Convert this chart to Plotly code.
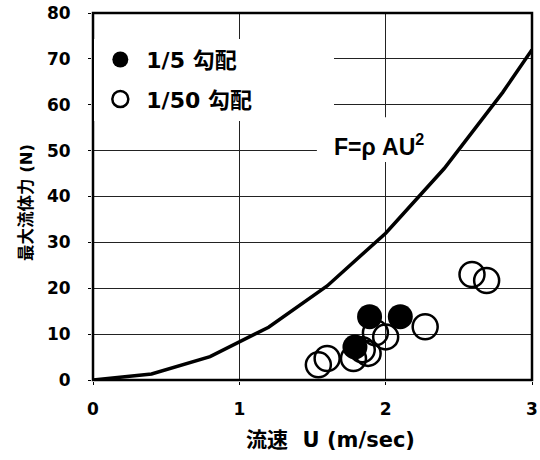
import plotly.graph_objects as go

# Theoretical curve F = rho*A*U^2
curve_u = [0, 0.4, 0.8, 1.2, 1.6, 2.0, 2.4, 2.8, 3.0]
curve_f = [0, 1.3, 5.1, 11.5, 20.5, 32.0, 46.1, 62.7, 72.0]

# 1/5 slope (filled circles)
s5_u = [1.79, 1.89, 2.10]
s5_f = [7.2, 13.8, 13.8]

# 1/50 slope (open circles)
s50_u = [1.54, 1.60, 1.78, 1.84, 1.88, 1.93, 2.00, 2.27, 2.59, 2.69]
s50_f = [3.3, 4.7, 4.7, 6.6, 5.8, 10.3, 9.4, 11.6, 23.0, 21.7]

x_ticks = [0, 1, 2, 3]
y_ticks = [0, 10, 20, 30, 40, 50, 60, 70, 80]

FONT = "DejaVu Sans, Noto Sans CJK JP"
FONT2 = "Liberation Sans, Arial, Noto Sans CJK JP"

fig = go.Figure()
fig.add_trace(go.Scatter(x=curve_u, y=curve_f, mode="lines",
                         line=dict(color="black", width=3.5),
                         showlegend=False, hoverinfo="skip"))
fig.add_trace(go.Scatter(x=s5_u, y=s5_f, mode="markers", name="1/5 勾配",
                         legendgroup="a", zorder=2,
                         marker=dict(symbol="circle", size=25, color="black")))
fig.add_trace(go.Scatter(x=s50_u, y=s50_f, mode="markers",
                         name="1/50 勾配\u00a0\u00a0\u00a0\u00a0\u00a0\u00a0\u00a0\u00a0\u00a0\u00a0",
                         legendgroup="b", zorder=1,
                         marker=dict(symbol="circle-open", size=25, color="black",
                                     line=dict(color="black", width=2.5))))

# white box behind the formula label (hides grid, stays under the curve)
fig.add_shape(type="rect", xref="x", yref="y", x0=1.53, x1=2.51, y0=47.5, y1=57.3,
              line=dict(width=0), fillcolor="white", layer="between")
fig.add_annotation(x=1.955, y=51.2, text="F=ρ AU<sup>2</sup>", showarrow=False,
                   font=dict(size=23, color="black", family=FONT2, weight="bold"))

# axis titles placed as annotations
fig.add_annotation(xref="paper", yref="paper", x=0.54, y=-0.1635,
                   xanchor="center", yanchor="middle", showarrow=False,
                   text="流速  U (m/sec)",
                   font=dict(size=21, color="black", family=FONT, weight="bold"))
fig.add_annotation(xref="paper", yref="paper", x=-0.1526, y=0.482,
                   xanchor="center", yanchor="middle", showarrow=False,
                   textangle=-90, text="最大流体力 (N)",
                   font=dict(size=16.5, color="black", family=FONT, weight="bold"))

# plot frame
fig.add_shape(type="rect", xref="paper", yref="paper", x0=0, y0=0, x1=1, y1=1,
              line=dict(color="black", width=2.5), fillcolor="rgba(0,0,0,0)",
              layer="above")

fig.update_layout(
    width=540, height=460,
    margin=dict(l=93, r=8, t=13, b=80, autoexpand=False),
    paper_bgcolor="white", plot_bgcolor="white",
    font=dict(family=FONT, color="black"),
    showlegend=True,
    legend=dict(x=0.003, y=0.93, xanchor="left", yanchor="top",
                bgcolor="white", borderwidth=0,
                traceorder="grouped", tracegroupgap=8, itemwidth=42,
                font=dict(size=22, color="black", family=FONT, weight="bold"),
                itemsizing="trace"),
)
fig.update_xaxes(range=[0, 3], tickvals=x_ticks, ticktext=[str(v) for v in x_ticks],
                 showgrid=True, gridcolor="#222", gridwidth=1.2, automargin=False,
                 showline=True, linecolor="black", linewidth=2, mirror=True,
                 ticks="outside", ticklen=3, tickcolor="black",
                 ticklabelstandoff=10, zeroline=False,
                 tickfont=dict(size=17, family=FONT, weight="bold"))
fig.update_yaxes(range=[0, 80], tickvals=y_ticks, ticktext=[str(v) for v in y_ticks],
                 showgrid=True, gridcolor="#222", gridwidth=1.2, automargin=False,
                 showline=True, linecolor="black", linewidth=2, mirror=True,
                 ticks="outside", ticklen=3, tickcolor="black",
                 ticklabelstandoff=14, zeroline=False,
                 tickfont=dict(size=17, family=FONT, weight="bold"))

fig.write_html("out.html", config={"displayModeBar": False},
               post_script="document.body.style.margin='0';")
